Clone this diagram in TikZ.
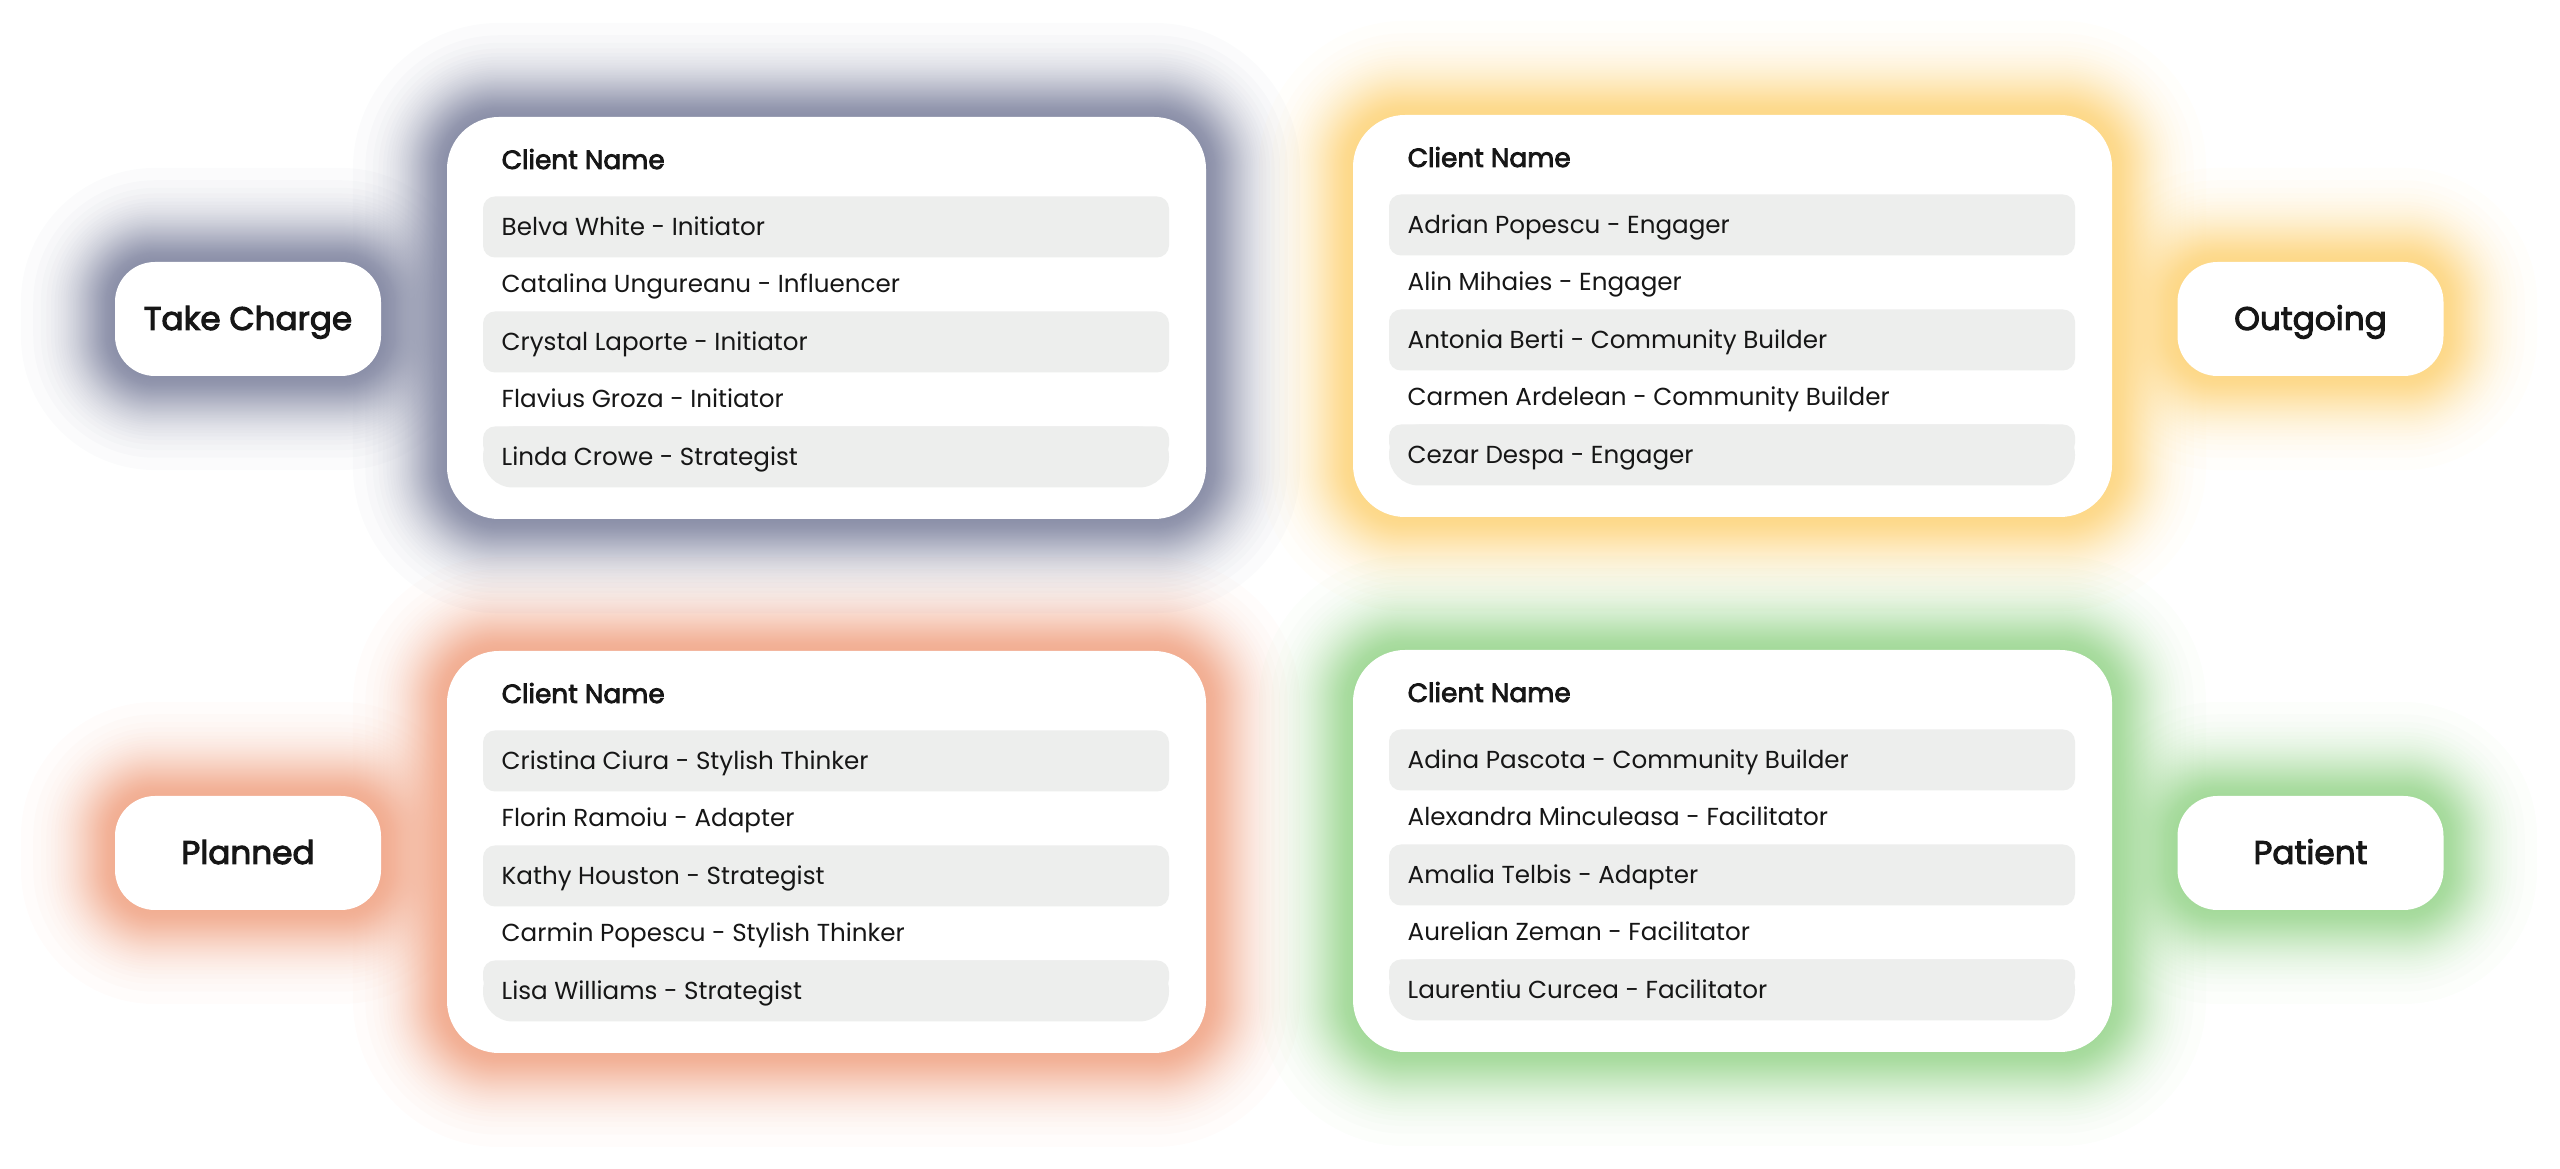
\documentclass[tikz,border=0pt]{standalone}
\usepackage{fontspec}
\setmainfont{Poppins}
\newfontfamily\medfont{Poppins}[FakeBold=3]
\usepackage{tikz}
\usetikzlibrary{calc}
\definecolor{haloA}{HTML}{7C819D}
\definecolor{haloB}{HTML}{FDD379}
\definecolor{haloC}{HTML}{F0A384}
\definecolor{haloD}{HTML}{98D58D}
\definecolor{rowgray}{HTML}{EDEEED}
\definecolor{ink}{HTML}{161616}
\tikzset{
  item/.style={anchor=base west,inner sep=0pt,text=ink,font=\fontsize{7}{8}\selectfont},
  head/.style={anchor=base west,inner sep=0pt,text=ink,font=\medfont\fontsize{7.5}{8}\selectfont},
  pill/.style={fill=white,rounded corners=4mm,minimum width=26.6mm,minimum height=11.4mm,
    inner sep=0pt,text height=2.2mm,text depth=0pt,text=ink,font=\medfont\fontsize{9.3}{10}\selectfont},
}
% soft coloured halo round a rounded box: colour, x0, y0, x1, y1, corner radius (px)
\newcommand{\halo}[6]{%
  \foreach \k in {1,...,68}{%
    \pgfmathsetmacro\e{44*pow(max(0,ln(0.875/(1-pow(0.97,\k)))),0.625)}%
    \pgfmathsetmacro\rr{0.1*(#6+\e)}%
    \fill[#1,opacity=.03,rounded corners=\rr mm] (#2-\e,#3-\e) rectangle (#4+\e,#5+\e);
  }%
}
% white card with header and shaded rows: id, left, top
\newcommand{\card}[3]{%
  \fill[white,rounded corners=5.2mm] (#2,#3) rectangle ++(759,402);
  \foreach \i in {0,2}{%
    \fill[rowgray,rounded corners=1.2mm] (#2+36,#3+79.5+57.5*\i) rectangle ++(686,61);
  }
  \fill[rowgray,rounded corners=3mm] (#2+36,#3+309.5) rectangle ++(686,61);
  \fill[rowgray,rounded corners=1.2mm] (#2+36,#3+309.5) rectangle ++(686,30.5);
  \node[head] (#1h) at (#2+54,#3+52) {Client Name};
}

\begin{document}
\begin{tikzpicture}[x=0.1mm,y=-0.1mm]
\useasboundingbox (0,0) rectangle (2560,1169);
\halo{haloA}{447}{117}{1206}{519}{52} \halo{haloA}{115}{262}{381}{376}{40}
\halo{haloB}{1353}{115}{2112}{517}{52} \halo{haloB}{2178}{262}{2443}{376}{40}
\halo{haloC}{447}{651}{1206}{1053}{52} \halo{haloC}{115}{796}{381}{910}{40}
\halo{haloD}{1353}{650}{2112}{1052}{52} \halo{haloD}{2178}{796}{2443}{910}{40}

\card{ca}{447}{117} \card{cb}{1353}{115}
\card{cc}{447}{651} \card{cd}{1353}{650}

\foreach \t [count=\i from 0] in {Belva White - Initiator,Catalina Ungureanu - Influencer,
  Crystal Laporte - Initiator,Flavius Groza - Initiator,Linda Crowe - Strategist}
  \node[item] (ca\i) at (501,117+118.5+57.5*\i) {\t};
\foreach \t [count=\i from 0] in {Adrian Popescu - Engager,Alin Mihaies - Engager,
  Antonia Berti - Community Builder,Carmen Ardelean - Community Builder,Cezar Despa - Engager}
  \node[item] (cb\i) at (1407,115+118.5+57.5*\i) {\t};
\foreach \t [count=\i from 0] in {Cristina Ciura - Stylish Thinker,Florin Ramoiu - Adapter,
  Kathy Houston - Strategist,Carmin Popescu - Stylish Thinker,Lisa Williams - Strategist}
  \node[item] (cc\i) at (501,651+118.5+57.5*\i) {\t};
\foreach \t [count=\i from 0] in {Adina Pascota - Community Builder,Alexandra Minculeasa - Facilitator,
  Amalia Telbis - Adapter,Aurelian Zeman - Facilitator,Laurentiu Curcea - Facilitator}
  \node[item] (cd\i) at (1407,650+118.5+57.5*\i) {\t};

\node[pill] (take) at (248,319) {Take Charge};
\node[pill] (outgoing) at (2310.5,319) {Outgoing};
\node[pill] (planned) at (248,853) {Planned};
\node[pill] (patient) at (2310.5,853) {Patient};
\end{tikzpicture}
\end{document}
